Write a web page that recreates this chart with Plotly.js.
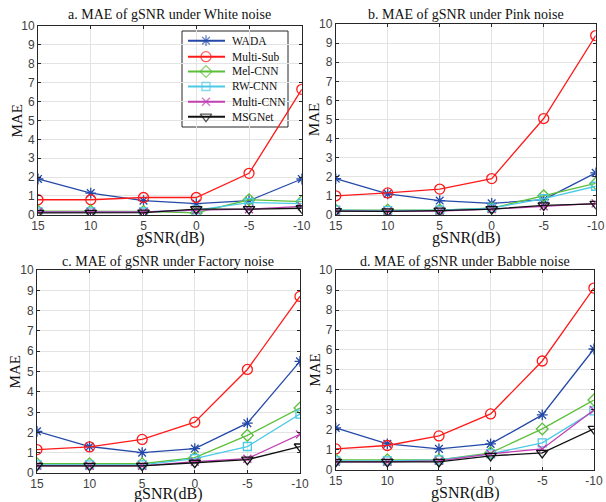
<!DOCTYPE html>
<html>
<head>
<meta charset="utf-8">
<script src="https://cdn.plot.ly/plotly-3.0.1.min.js"></script>
<style>html,body{margin:0;padding:0;background:#fff;}#chart{width:606px;height:502px;}</style>
</head>
<body>
<div id="chart"></div>
<script>
var gSNR = [15, 10, 5, 0, -5, -10];
var methods = ["WADA", "Multi-Sub", "Mel-CNN", "RW-CNN", "Multi-CNN", "MSGNet"];
var panelTitles = [
  "a. MAE of gSNR under White noise",
  "b. MAE of gSNR under Pink noise",
  "c. MAE of gSNR under Factory noise",
  "d. MAE of gSNR under Babble noise"
];
var white = [
  [1.9, 1.15, 0.75, 0.6, 0.75, 1.9],
  [0.8, 0.8, 0.92, 0.92, 2.2, 6.65],
  [0.2, 0.2, 0.18, 0.1, 0.8, 0.7],
  [0.15, 0.15, 0.15, 0.25, 0.65, 0.6],
  [0.15, 0.15, 0.15, 0.25, 0.3, 0.45],
  [0.1, 0.1, 0.12, 0.3, 0.3, 0.35]
];
var pink = [
  [1.9, 1.1, 0.75, 0.6, 0.8, 2.2],
  [1.0, 1.15, 1.35, 1.9, 5.05, 9.4],
  [0.25, 0.25, 0.25, 0.35, 1.0, 1.65],
  [0.25, 0.22, 0.25, 0.35, 0.85, 1.5],
  [0.2, 0.18, 0.2, 0.3, 0.45, 0.6],
  [0.2, 0.18, 0.22, 0.3, 0.5, 0.58]
];
var factory = [
  [2.05, 1.3, 1.0, 1.2, 2.45, 5.5],
  [1.15, 1.28, 1.65, 2.5, 5.1, 8.7],
  [0.45, 0.45, 0.45, 0.75, 1.85, 3.2],
  [0.4, 0.4, 0.4, 0.7, 1.3, 2.9],
  [0.35, 0.35, 0.35, 0.55, 0.7, 1.9],
  [0.35, 0.35, 0.35, 0.5, 0.65, 1.3]
];
var babble = [
  [2.1, 1.3, 1.05, 1.3, 2.75, 6.05],
  [1.05, 1.22, 1.7, 2.8, 5.45, 9.1],
  [0.5, 0.5, 0.5, 0.85, 2.05, 3.5],
  [0.45, 0.45, 0.5, 0.8, 1.35, 2.95],
  [0.4, 0.4, 0.45, 0.8, 1.05, 3.0],
  [0.4, 0.4, 0.4, 0.7, 0.85, 2.05]
];
var xTicks = [15, 10, 5, 0, -5, -10];
var yTicks = [0, 1, 2, 3, 4, 5, 6, 7, 8, 9, 10];

var colors = ["#2449a8", "#ff1a1a", "#5bbf3a", "#4cc9e6", "#c13fb3", "#111111"];
var symbols = ["asterisk-open", "circle-open", "diamond-open", "square-open", "x-thin-open", "triangle-down-open"];
var sizes = [9, 10, 9, 8, 8, 10];

var panels = [white, pink, factory, babble];
var domains = [
  {x: [0.0627, 0.498], y: [0.572, 0.948]},
  {x: [0.554, 0.983], y: [0.572, 0.952]},
  {x: [0.061, 0.495], y: [0.058, 0.462]},
  {x: [0.554, 0.980], y: [0.064, 0.462]}
];
var serif = "Liberation Serif, Times New Roman, serif";
var sans = "Liberation Sans, Arial, sans-serif";

var traces = [];
panels.forEach(function (data, p) {
  var ax = p === 0 ? "" : String(p + 1);
  data.forEach(function (vals, i) {
    traces.push({
      x: gSNR, y: vals, type: "scatter", mode: "lines+markers",
      name: methods[i], showlegend: false,
      xaxis: "x" + ax, yaxis: "y" + ax,
      line: {color: colors[i], width: 1.3},
      marker: {symbol: symbols[i], size: sizes[i], color: colors[i], line: {color: colors[i], width: 1.3}}
    });
  });
});

// Custom legend drawn in a pixel-scaled overlay axis (x5/y5)
var legBox = {l: 182, r: 288, t: 31, b: 127};
var legRowY = [40.7, 56.7, 71.5, 86.5, 101.7, 116.7];
methods.forEach(function (m, i) {
  traces.push({
    x: [188, 206, 225], y: [legRowY[i], legRowY[i], legRowY[i]],
    type: "scatter", mode: "lines+markers", showlegend: false, name: m,
    xaxis: "x5", yaxis: "y5",
    line: {color: colors[i], width: 2},
    marker: {symbol: symbols[i], size: [0, sizes[i], 0], color: colors[i], line: {color: colors[i], width: 1.3}}
  });
});

var layout = {
  width: 606, height: 502,
  margin: {l: 0, r: 0, t: 0, b: 0},
  paper_bgcolor: "#fff", plot_bgcolor: "rgba(0,0,0,0)",
  showlegend: false,
  annotations: [],
  shapes: [{
    type: "rect", xref: "paper", yref: "paper", layer: "below",
    x0: legBox.l / 606, x1: legBox.r / 606, y0: 1 - legBox.b / 502, y1: 1 - legBox.t / 502,
    fillcolor: "#ffffff", line: {color: "#262626", width: 1}
  }],
  xaxis5: {domain: [legBox.l / 606, legBox.r / 606], range: [legBox.l, legBox.r], anchor: "y5", visible: false, fixedrange: true},
  yaxis5: {domain: [1 - legBox.b / 502, 1 - legBox.t / 502], range: [legBox.b, legBox.t], anchor: "x5", visible: false, fixedrange: true}
};

methods.forEach(function (m, i) {
  layout.annotations.push({
    text: m, xref: "x5", yref: "y5", x: 230, y: legRowY[i], xanchor: "left", yanchor: "middle",
    showarrow: false, font: {family: serif, size: 11.5, color: "#111"}
  });
});

var titleY = [15, 15, 261, 261];
var xlabOff = [23, 23, 21, 23];
domains.forEach(function (d, p) {
  var ax = p === 0 ? "" : String(p + 1);
  var common = {
    showgrid: true, gridcolor: "#e3e3e3", gridwidth: 1,
    zeroline: false, showline: true, mirror: "ticks", linecolor: "#262626", linewidth: 1,
    ticks: "inside", ticklen: 3, tickcolor: "#262626",
    tickfont: {family: sans, size: 12, color: "#404040"}
  };
  layout["xaxis" + ax] = Object.assign({
    domain: d.x, anchor: "y" + ax, range: [15, -10],
    tickvals: xTicks, ticktext: xTicks.map(String)
  }, common);
  layout["yaxis" + ax] = Object.assign({
    domain: d.y, anchor: "x" + ax, range: [0, 10],
    tickvals: yTicks, ticktext: yTicks.map(String)
  }, common);
  var cx = (d.x[0] + d.x[1]) / 2;
  var cy = (d.y[0] + d.y[1]) / 2;
  layout.annotations.push({
    text: panelTitles[p], xref: "paper", yref: "paper",
    x: cx, y: 1 - titleY[p] / 502, xanchor: "center", yanchor: "middle", showarrow: false,
    font: {family: serif, size: 14, color: "#111"}
  });
  layout.annotations.push({
    text: "gSNR(dB)", xref: "paper", yref: "paper",
    x: cx, y: d.y[0] - xlabOff[p] / 502, xanchor: "center", yanchor: "middle", showarrow: false,
    font: {family: serif, size: 16, color: "#111"}
  });
  layout.annotations.push({
    text: "MAE", xref: "paper", yref: "paper", textangle: -90,
    x: d.x[0] - 21 / 606, y: cy, xanchor: "center", yanchor: "middle", showarrow: false,
    font: {family: serif, size: 15, color: "#111"}
  });
});

Plotly.newPlot("chart", traces, layout, {displayModeBar: false, staticPlot: true});
</script>
</body>
</html>
